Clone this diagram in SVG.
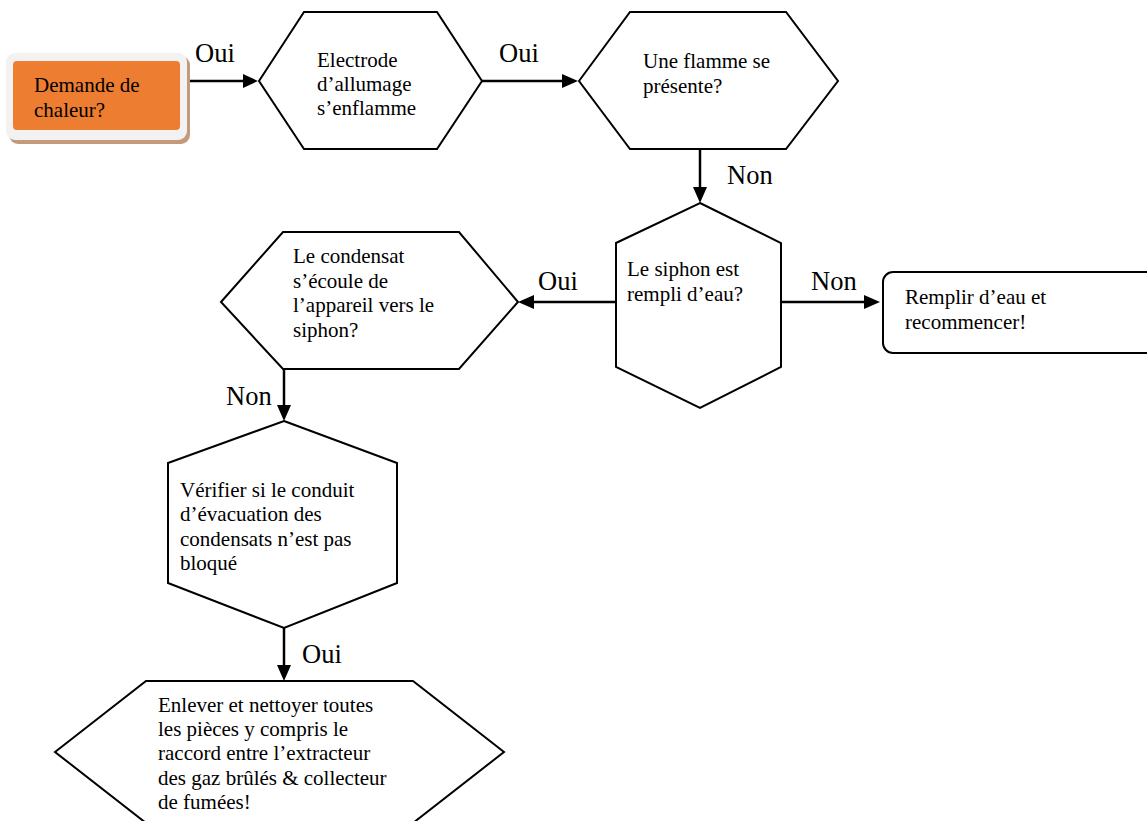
<svg xmlns="http://www.w3.org/2000/svg" width="1147" height="821" viewBox="0 0 1147 821">
<defs>
<style>
.shape{fill:#fff;stroke:#000;stroke-width:2;stroke-linejoin:miter}
.t{font-family:"Liberation Serif","Times New Roman",serif;font-size:21px;fill:#000}
.lbl{font-family:"Liberation Serif","Times New Roman",serif;font-size:26.5px;fill:#000}
.ln{stroke:#000;stroke-width:2.5;fill:none}
</style>
</defs>
<rect width="1147" height="821" fill="#fff"/>

<g id="connectors">
<line class="ln" x1="188" y1="81" x2="246" y2="81"/>
<path d="M243,74 L258,81 L243,88 z"/>
<line class="ln" x1="482" y1="81" x2="565" y2="81"/>
<path d="M562,74 L578,81 L562,88 z"/>
<line class="ln" x1="700" y1="149" x2="700" y2="190"/>
<path d="M693,187 L700,203 L707,187 z"/>
<line class="ln" x1="616" y1="302" x2="530" y2="302"/>
<path d="M534,295 L518,302 L534,309 z"/>
<line class="ln" x1="781" y1="302" x2="866" y2="302"/>
<path d="M864,295 L880,302 L864,309 z"/>
<line class="ln" x1="284" y1="369" x2="284" y2="408"/>
<path d="M277,405 L284,421 L291,405 z"/>
<line class="ln" x1="284" y1="628" x2="284" y2="668"/>
<path d="M277,665 L284,681 L291,665 z"/>
<text class="lbl" x="195" y="62">Oui</text>
<text class="lbl" x="499" y="62">Oui</text>
<text class="lbl" x="727" y="184">Non</text>
<text class="lbl" x="538" y="290">Oui</text>
<text class="lbl" x="811" y="290">Non</text>
<text class="lbl" x="226" y="405">Non</text>
<text class="lbl" x="302" y="663">Oui</text>
</g>

<g id="n-demande">
<rect x="9" y="56" width="181" height="88" rx="9" fill="#c49a7c"/>
<rect x="6" y="53" width="181" height="87" rx="9" fill="#f2f2f2"/>
<rect x="13" y="61" width="167" height="69" rx="4" fill="#ed7d31"/>
<text class="t" x="34" y="92">Demande de</text>
<text class="t" x="34" y="117">chaleur?</text>
</g>

<g id="n-electrode">
<polygon class="shape" points="259,81 304,12 437,12 482,81 437,149 304,149"/>
<text class="t" x="317" y="67">Electrode</text>
<text class="t" x="317" y="91">d’allumage</text>
<text class="t" x="317" y="115">s’enflamme</text>
</g>

<g id="n-flamme">
<polygon class="shape" points="579,81 630,12 786,12 838,81 786,149 630,149"/>
<text class="t" x="643" y="68">Une flamme se</text>
<text class="t" x="643" y="93">présente?</text>
</g>

<g id="n-siphon">
<polygon class="shape" points="700,203 781,243 781,367 700,408 616,367 616,243"/>
<text class="t" x="627" y="276">Le siphon est</text>
<text class="t" x="627" y="301">rempli d’eau?</text>
</g>

<g id="n-remplir">
<rect class="shape" x="883" y="272" width="290" height="81" rx="10"/>
<text class="t" x="905" y="304">Remplir d’eau et</text>
<text class="t" x="905" y="329">recommencer!</text>
</g>

<g id="n-condensat">
<polygon class="shape" points="221,302 283,232 459,232 518,302 459,369 283,369"/>
<text class="t" x="293" y="263">Le condensat</text>
<text class="t" x="293" y="288">s’écoule de</text>
<text class="t" x="293" y="312">l’appareil vers le</text>
<text class="t" x="293" y="337">siphon?</text>
</g>

<g id="n-verifier">
<polygon class="shape" points="284,421 397,463 397,583 284,628 168,583 168,463"/>
<text class="t" x="180" y="497">Vérifier si le conduit</text>
<text class="t" x="180" y="521">d’évacuation des</text>
<text class="t" x="180" y="546">condensats n’est pas</text>
<text class="t" x="180" y="570">bloqué</text>
</g>

<g id="n-enlever">
<polygon class="shape" points="55,752 146,681 413,681 504,752 413,823 146,823"/>
<text class="t" x="158" y="712">Enlever et nettoyer toutes</text>
<text class="t" x="158" y="736">les pièces y compris le</text>
<text class="t" x="158" y="760">raccord entre l’extracteur</text>
<text class="t" x="158" y="785">des gaz brûlés &amp; collecteur</text>
<text class="t" x="158" y="809">de fumées!</text>
</g>
</svg>
